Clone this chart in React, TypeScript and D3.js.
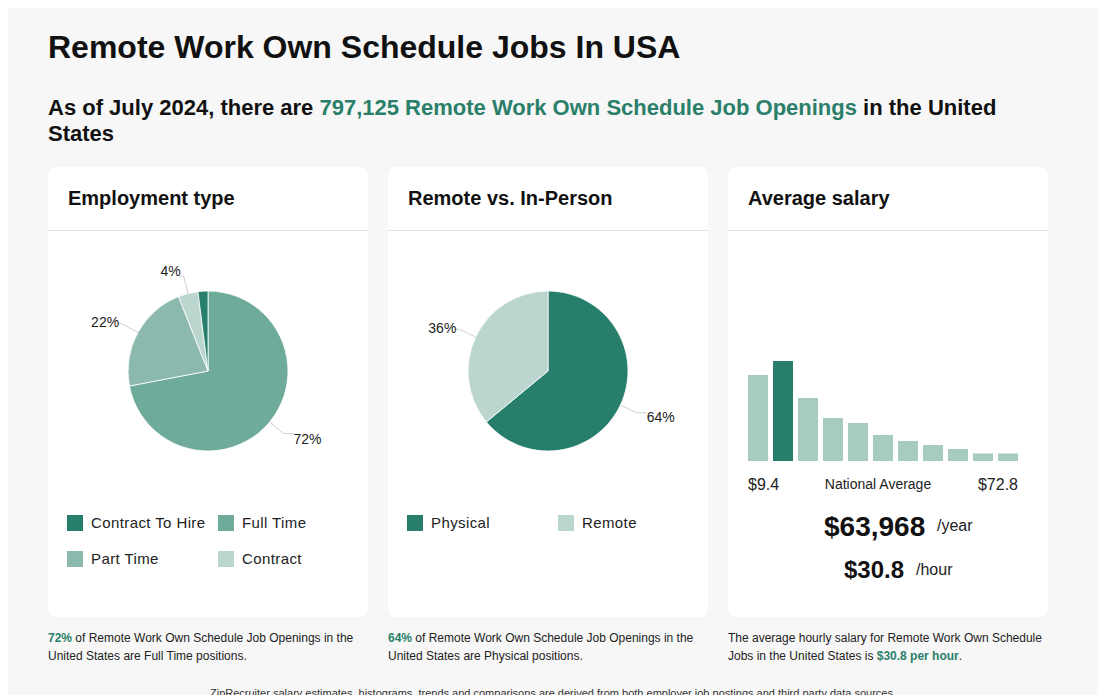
import React from "react";
import * as d3 from "d3";

const empLabels = ["Full Time", "Part Time", "Contract", "Contract To Hire"];
const empValues = [72, 22, 4, 2];
const empColors = ["#6fab9b", "#8bb9ad", "#bad6cf", "#277f6b"];
const empShowLabel = [true, true, true, false];

const remLabels = ["Physical", "Remote"];
const remValues = [64, 36];
const remColors = ["#277f6b", "#bad6cf"];

const salaryBins = [86, 100, 63, 43, 38, 26, 20, 16, 12, 7.5, 7.5];
const salaryHighlight = 1;
const salaryMin = "$9.4";
const salaryMax = "$72.8";
const salaryYear = "$63,968";
const salaryHour = "$30.8";

const legendEmp = [
  { label: "Contract To Hire", color: "#277f6b" },
  { label: "Full Time", color: "#6fab9b" },
  { label: "Part Time", color: "#8bb9ad" },
  { label: "Contract", color: "#bad6cf" },
];
const legendRem = [
  { label: "Physical", color: "#277f6b" },
  { label: "Remote", color: "#bad6cf" },
];

const GREEN = "#2a7f6a";
const FONT = "'Liberation Sans', Arial, Helvetica, sans-serif";

function Pie({ cx, cy, values, colors, show }: { cx: number; cy: number; values: number[]; colors: string[]; show: boolean[] }) {
  const r = 80;
  const pie = d3.pie<number>().sort(null).value((d) => d)(values);
  const arc = d3.arc<d3.PieArcDatum<number>>().innerRadius(0).outerRadius(r);
  return (
    <g transform={`translate(${cx},${cy})`}>
      {pie.map((p, i) => (
        <path key={i} d={arc(p) || ""} fill={colors[i]} stroke="#fff" strokeWidth={0.8} />
      ))}
      {pie.map((p, i) => {
        if (!show[i]) return null;
        const a = (p.startAngle + p.endAngle) / 2;
        const s = Math.sin(a), c = Math.cos(a);
        const p1 = [r * s, -r * c];
        const p2 = [98 * s, -98 * c];
        const right = s > 0;
        const p3 = [p2[0] + (right ? 10 : -5), p2[1]];
        const ty = p2[1] - 7 * c + 1.5;
        return (
          <g key={"l" + i}>
            <polyline points={`${p1.join(",")} ${p2.join(",")} ${p3.join(",")}`} fill="none" stroke="#cfcfcf" strokeWidth={1} />
            <text x={p3[0] + (right ? 0 : 2)} y={ty} dy="0.35em" textAnchor={right ? "start" : "end"} fontSize={14} fill="#222">
              {values[i]}%
            </text>
          </g>
        );
      })}
    </g>
  );
}

function Card({ x, title }: { x: number; title: string }) {
  return (
    <g>
      <rect x={x} y={167} width={320} height={450} rx={8} fill="#fff" />
      <line x1={x} x2={x + 320} y1={230.5} y2={230.5} stroke="#e3e3e3" strokeWidth={1} />
      <text x={x + 20} y={205} fontSize={20} fontWeight="bold" fill="#111">{title}</text>
    </g>
  );
}

function Legend({ x, y, items }: { x: number; y: number; items: { label: string; color: string }[] }) {
  return (
    <g>
      {items.map((it, i) => {
        const col = i % 2, row = Math.floor(i / 2);
        const lx = x + col * 151, ly = y + row * 36;
        return (
          <g key={i}>
            <rect x={lx} y={ly} width={16} height={16} fill={it.color} />
            <text x={lx + 24} y={ly + 13} fontSize={15} letterSpacing={0.4} fill="#222">{it.label}</text>
          </g>
        );
      })}
    </g>
  );
}

function Bars() {
  const x = d3.scaleBand<number>().domain(d3.range(salaryBins.length)).range([748, 1018]).paddingInner(0.2).paddingOuter(0);
  const y = d3.scaleLinear().domain([0, 100]).range([461, 361]);
  return (
    <g>
      {salaryBins.map((v, i) => (
        <rect key={i} x={x(i)} y={y(v)} width={x.bandwidth()} height={461 - y(v)} fill={i === salaryHighlight ? "#277f6b" : "#a8cbc1"} />
      ))}
    </g>
  );
}

export default function App() {
  return (
    <svg width={1094} height={700} style={{ display: "block", fontFamily: FONT }}>
      <g transform="translate(-8,-8)">
        <rect x={8} y={8} width={1090} height={700} fill="#f7f7f7" />
        <text x={48} y={58} fontSize={32} fontWeight="bold" fill="#111">Remote Work Own Schedule Jobs In USA</text>
        <text x={48} y={115} fontSize={22} fontWeight="bold" fill="#111">
          As of July 2024, there are <tspan fill={GREEN}>797,125 Remote Work Own Schedule Job Openings</tspan> in the United
        </text>
        <text x={48} y={141} fontSize={22} fontWeight="bold" fill="#111">States</text>

        <Card x={48} title="Employment type" />
        <Card x={388} title="Remote vs. In-Person" />
        <Card x={728} title="Average salary" />

        <Pie cx={208} cy={371} values={empValues} colors={empColors} show={empShowLabel} />
        <Pie cx={548} cy={371} values={remValues} colors={remColors} show={[true, true]} />

        <Legend x={67} y={515} items={legendEmp} />
        <Legend x={407} y={515} items={legendRem} />

        <Bars />
        <text x={748} y={490} fontSize={16} fill="#222">{salaryMin}</text>
        <text x={878} y={489} fontSize={14} fill="#222" textAnchor="middle">National Average</text>
        <text x={1018} y={490} fontSize={16} fill="#222" textAnchor="end">{salaryMax}</text>
        <text x={824} y={536} fontSize={28} fontWeight="bold" fill="#111">{salaryYear}</text>
        <text x={937} y={531} fontSize={16} fill="#222">/year</text>
        <text x={844} y={578} fontSize={24} fontWeight="bold" fill="#111">{salaryHour}</text>
        <text x={916} y={575} fontSize={16} fill="#222">/hour</text>

        <g fontSize={12} fill="#222">
          <text x={48} y={642}><tspan fill={GREEN} fontWeight="bold">72%</tspan> of Remote Work Own Schedule Job Openings in the</text>
          <text x={48} y={660}>United States are Full Time positions.</text>
          <text x={388} y={642}><tspan fill={GREEN} fontWeight="bold">64%</tspan> of Remote Work Own Schedule Job Openings in the</text>
          <text x={388} y={660}>United States are Physical positions.</text>
          <text x={728} y={642}>The average hourly salary for Remote Work Own Schedule</text>
          <text x={728} y={660}>Jobs in the United States is <tspan fill={GREEN} fontWeight="bold">$30.8 per hour</tspan>.</text>
        </g>
        <text x={553} y={697} fontSize={11} fill="#333" textAnchor="middle">ZipRecruiter salary estimates, histograms, trends and comparisons are derived from both employer job postings and third party data sources.</text>
      </g>
    </svg>
  );
}
